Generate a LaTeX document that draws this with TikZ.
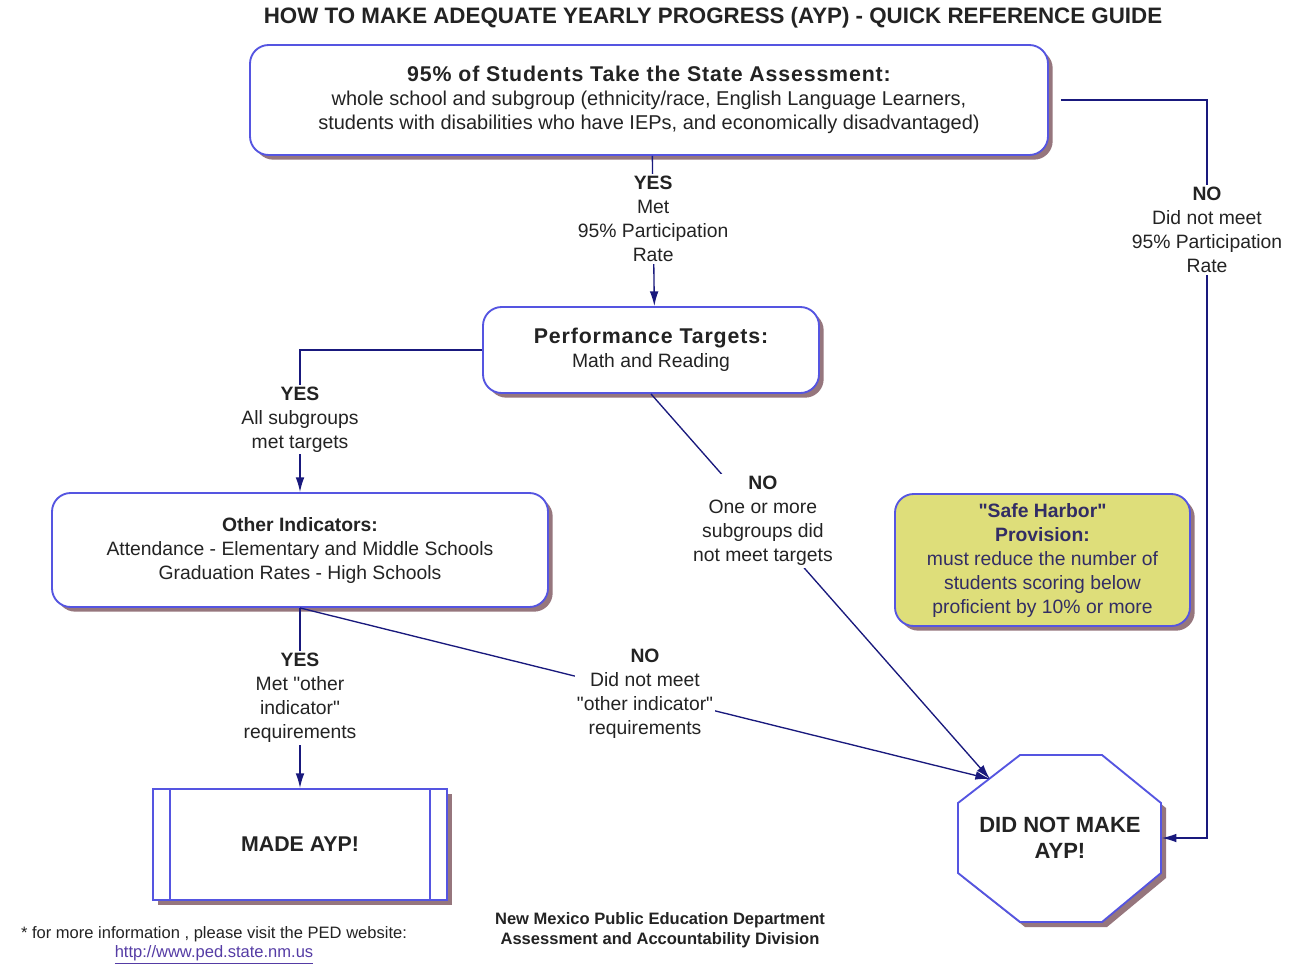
\documentclass[tikz,border=0pt]{standalone}
\usepackage{fontspec}
\setmainfont{Liberation Sans}
\newfontfamily\headfont[LetterSpace=4]{Liberation Sans}
\usetikzlibrary{shadows,arrows.meta}
\definecolor{bord}{RGB}{85,85,225}
\definecolor{connc}{RGB}{25,25,125}
\definecolor{shad}{RGB}{150,118,125}
\definecolor{txt}{RGB}{35,35,35}
\definecolor{harbor}{RGB}{222,222,122}
\definecolor{harbortxt}{RGB}{50,45,100}
\definecolor{linkc}{RGB}{85,60,165}
\newcommand{\dq}{\textquotedbl}
\begin{document}
\begin{tikzpicture}[x=0.75pt,y=-0.75pt,
  font=\fontsize{14.5}{18}\selectfont,
  card/.style={draw=bord, line width=1.4pt, fill=white, rounded corners=14pt, align=center, inner sep=0pt, text=txt,
     drop shadow={shadow xshift=3.5pt, shadow yshift=-3.5pt, fill=shad, opacity=1}},
  conn/.style={draw=connc, line width=1pt},
  arr/.style={conn, -{Latex[length=11pt,width=6.5pt]}},
  lbl/.style={fill=white, align=center, inner sep=1.5pt, text=txt},
  hd/.style={font=\headfont\bfseries\fontsize{16}{20}\selectfont}
]
\useasboundingbox (0,0) rectangle (1301,964);
\fill[white] (0,0) rectangle (1301,964);

\node[text=txt, font=\bfseries\fontsize{16.75}{20}\selectfont] (title) at (713,18) {HOW TO MAKE ADEQUATE YEARLY PROGRESS (AYP) - QUICK REFERENCE GUIDE};

\node[card, minimum width=598.5pt, minimum height=82.5pt, font=\fontsize{15}{18}\selectfont] (top) at (649,100)
  {{\headfont\bfseries\fontsize{16}{18}\selectfont 95\% of Students Take the State Assessment:}\\
   whole school and subgroup (ethnicity/race, English Language Learners,\\
   students with disabilities who have IEPs, and economically disadvantaged)};

\node[card, minimum width=252pt, minimum height=64.5pt] (perf) at (651,350)
  {{\headfont\bfseries\fontsize{16}{18}\selectfont Performance Targets:}\\ Math and Reading};

\node[card, minimum width=372pt, minimum height=85.5pt] (other) at (300,550)
  {{\bfseries Other Indicators:}\\ Attendance - Elementary and Middle Schools\\ Graduation Rates - High Schools};

\node[card, fill=harbor, minimum width=221.25pt, minimum height=99pt, text=harbortxt] (sh) at (1042.5,560)
  {\textbf{\dq Safe Harbor\dq}\\ \textbf{Provision:}\\ must reduce the number of\\ students scoring below\\ proficient by 10\% or more};

\node[draw=bord, line width=1.4pt, fill=white, minimum width=220.5pt, minimum height=83.25pt,
      drop shadow={shadow xshift=3.5pt, shadow yshift=-3.5pt, fill=shad, opacity=1},
      text=txt, font=\bfseries\fontsize{16}{19}\selectfont] (made) at (300,844.5) {MADE AYP!};
\draw[bord, line width=1.4pt] ([xshift=13.5pt]made.north west) -- ([xshift=13.5pt]made.south west);
\draw[bord, line width=1.4pt] ([xshift=-13.5pt]made.north east) -- ([xshift=-13.5pt]made.south east);

% octagon
\fill[shad] (1025,760) -- (1107,760) -- (1166,808) -- (1166,878) -- (1107,927) -- (1025,927) -- (963,878) -- (963,808) -- cycle;
\filldraw[fill=white, draw=bord, line width=1.4pt] (1020,755) -- (1102,755) -- (1161,803) -- (1161,873) -- (1102,922) -- (1020,922) -- (958,873) -- (958,803) -- cycle;
\node[minimum width=152.25pt, minimum height=125.25pt, align=center, text=txt,
      font=\bfseries\fontsize{16.5}{19.5}\selectfont] (dnm) at (1060,838) {DID NOT MAKE\\AYP!};
\coordinate (dnmNW) at (990,779);

% connectors
\draw[arr] ([xshift=2.5pt]top.south) -- node[lbl,pos=0.42]{\textbf{YES}\\Met\\95\% Participation\\Rate} ([xshift=2.5pt]perf.north);

\coordinate (rc) at (1207,100);
\draw[arr] ([xshift=9pt]top.east) -- (rc) -- node[lbl,pos=0.176]{\textbf{NO}\\Did not meet\\95\% Participation\\Rate} (rc |- dnm.east) -- (dnm.east);

\draw[arr] (perf.west) -| node[lbl,pos=0.745]{\textbf{YES}\\All subgroups\\met targets} (other.north);

\draw[arr] (perf.south) -- node[lbl,pos=0.33]{\textbf{NO}\\One or more\\subgroups did\\not meet targets} (dnmNW);

\draw[arr] (other.south) -- node[lbl,pos=0.5]{\textbf{YES}\\Met \dq other\\indicator\dq\\requirements} (made.north);

\draw[arr] (other.south) -- node[lbl,pos=0.5]{\textbf{NO}\\Did not meet\\\dq other indicator\dq\\requirements} (dnmNW);

% footer
\node[font=\fontsize{12.4}{15}\selectfont, text=txt] (foot1) at (214,934) {* for more information , please visit the PED website:};
\node[font=\fontsize{12.4}{15}\selectfont, text=linkc] (foot2) at (214,955) {\underline{http://www.ped.state.nm.us}};
\node[font=\bfseries\fontsize{12.4}{15}\selectfont, align=center, text=txt] (dept) at (660,930) {New Mexico Public Education Department\\Assessment and Accountability Division};
\end{tikzpicture}
\end{document}
